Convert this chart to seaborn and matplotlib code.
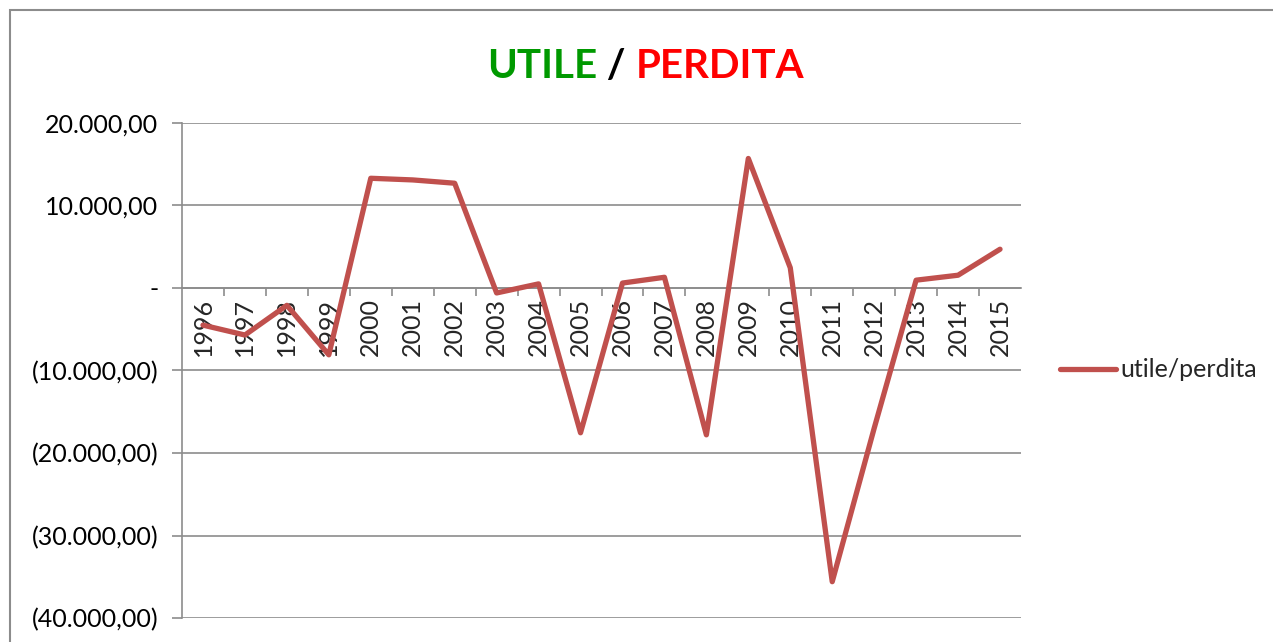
import numpy as np
import pandas as pd
import matplotlib
matplotlib.use("Agg")
import matplotlib.pyplot as plt
import matplotlib.ticker as mticker
from matplotlib.patches import Rectangle
import seaborn as sns


# ==================================
# DATA
# ==================================

years = ["1996", "1997", "1998", "1999", "2000", "2001", "2002", "2003", "2004", "2005",
         "2006", "2007", "2008", "2009", "2010", "2011", "2012", "2013", "2014", "2015"]

utile_perdita = [-4500, -5700, -2100, -8100, 13300, 13100, 12700, -600, 500, -17550,
                 600, 1300, -17800, 15700, 2450, -35600, -17000, 950, 1550, 4700]

y_ticks = [-40000, -30000, -20000, -10000, 0, 10000, 20000]

df = pd.DataFrame({"anno": years, "utile/perdita": utile_perdita})


# ==================================
# STYLE
# ==================================

sns.set_style("white")
plt.rcParams["font.family"] = ["Lato", "DejaVu Sans"]

LINE_COLOR = "#C0504D"
GRID_COLOR = "#8C8C8C"
TITLE_FONT = dict(fontsize=29, fontweight="bold")


def it_format(v, pos=None):
    # italian number format, negatives in brackets, zero as "-"
    if abs(v) < 1e-9:
        return "-"
    s = f"{abs(v):,.2f}".replace(",", "X").replace(".", ",").replace("X", ".")
    return f"({s})" if v < 0 else s


# ==================================
# PLOT
# ==================================

fig = plt.figure(figsize=(12.73, 6.42), dpi=100)
ax = fig.add_axes([182 / 1273, 1 - 618 / 642, (1021 - 182) / 1273, (618 - 123) / 642])

# outer chart border
fig.patches.append(Rectangle((10 / 1273, -0.1), 1.2, 1 - 10 / 642 + 0.1,
                             transform=fig.transFigure, fill=False,
                             edgecolor=GRID_COLOR, lw=1.5, zorder=0))

sns.lineplot(data=df, x="anno", y="utile/perdita", ax=ax, color=LINE_COLOR,
             lw=3.8, sort=False, label="utile/perdita", zorder=5)

ax.set_xlim(-0.5, len(years) - 0.5)
ax.set_ylim(-40000, 20000)
ax.set_yticks(y_ticks)
ax.yaxis.set_major_formatter(mticker.FuncFormatter(it_format))
ax.yaxis.grid(True, color=GRID_COLOR, lw=1.2)
ax.xaxis.grid(False)
ax.set_xlabel("")
ax.set_ylabel("")

for s in ["top", "right"]:
    ax.spines[s].set_visible(False)
ax.spines["left"].set_color(GRID_COLOR)
ax.spines["left"].set_linewidth(1.2)
ax.spines["bottom"].set_position(("data", 0))
ax.spines["bottom"].set_color(GRID_COLOR)
ax.spines["bottom"].set_linewidth(1.2)

ax.tick_params(axis="y", which="major", length=7, color=GRID_COLOR, width=1.2,
               labelsize=18, labelcolor="black", pad=10, left=True)
ax.set_xticks(range(len(years)))
ax.set_xticklabels(years, rotation=90)
ax.set_xticks(np.arange(0.5, len(years) - 0.5, 1), minor=True)
ax.tick_params(axis="x", which="major", length=0, labelsize=18, pad=7, bottom=True)
ax.tick_params(axis="x", which="minor", length=6, color=GRID_COLOR, width=1.2, bottom=True)

ax.legend(loc="center left", bbox_to_anchor=(1060 / 1273, 1 - 370 / 642),
          bbox_transform=fig.transFigure, frameon=False, fontsize=18,
          handlelength=2.25, handletextpad=0.15, borderpad=0, borderaxespad=0)

# multicolour title
t1 = fig.text(487 / 1273, 1 - 78 / 642, "UTILE", color="#009900", **TITLE_FONT)
t2 = ax.annotate(" / ", xy=(1, 0), xycoords=t1, va="bottom", ha="left",
                 color="black", annotation_clip=False, **TITLE_FONT)
t3 = ax.annotate("PERDITA", xy=(1, 0), xycoords=t2, va="bottom", ha="left",
                 color="#FF0000", annotation_clip=False, **TITLE_FONT)

fig.savefig("out.png", dpi=100)
